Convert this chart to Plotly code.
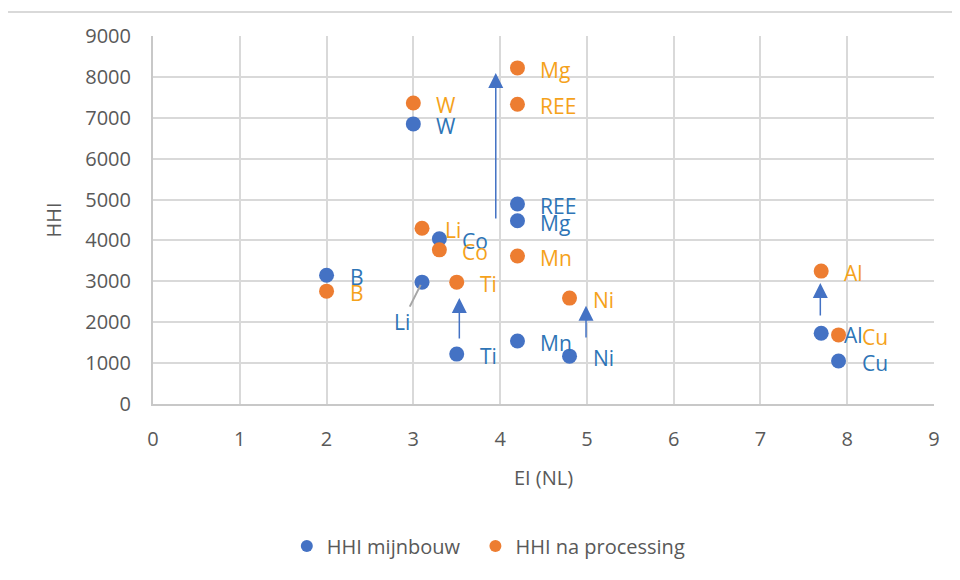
import plotly.graph_objects as go

elements = ["B", "Li", "Co", "W", "Ti", "REE", "Mg", "Mn", "Ni", "Al", "Cu"]
ei_nl = [2.0, 3.1, 3.3, 3.0, 3.5, 4.2, 4.2, 4.2, 4.8, 7.7, 7.9]
hhi_mijnbouw = [3150, 2980, 4040, 6850, 1220, 4890, 4480, 1540, 1170, 1730, 1050]
hhi_processing = [2760, 4300, 3770, 7360, 2980, 7330, 8220, 3620, 2590, 3250, 1690]

# arrows: x, tail y, head y
arrow_x = [3.95, 3.53, 4.99, 7.69]
arrow_from = [4500, 1565, 1590, 2130]
arrow_to = [8095, 2590, 2400, 2960]

BLUE = "#4472C4"
ORANGE = "#ED7D31"
BLUE_TXT = "#2E75B6"
ORANGE_TXT = "#F5A21B"
GRAY_TXT = "#595959"
FONT = "Open Sans"

fig = go.Figure()
fig.add_trace(go.Scatter(x=ei_nl, y=hhi_mijnbouw, mode="markers", name="HHI mijnbouw\u00a0\u00a0",
                         marker=dict(color=BLUE, size=15)))
fig.add_trace(go.Scatter(x=ei_nl, y=hhi_processing, mode="markers", name="HHI na processing",
                         marker=dict(color=ORANGE, size=15)))

# point labels
for el, x, y in zip(elements, ei_nl, hhi_mijnbouw):
    if el == "Li":
        fig.add_annotation(x=x, y=y, text=el, showarrow=True, arrowhead=0, arrowwidth=2,
                           arrowcolor="#A6A6A6", ax=-20, ay=40, standoff=3,
                           font=dict(family=FONT, size=21, color=BLUE_TXT))
    else:
        fig.add_annotation(x=x, y=y, text=el, showarrow=False, xanchor="left",
                           xshift=21, yshift=-2,
                           font=dict(family=FONT, size=21, color=BLUE_TXT))
for el, x, y in zip(elements, ei_nl, hhi_processing):
    fig.add_annotation(x=x, y=y, text=el, showarrow=False, xanchor="left",
                       xshift=21, yshift=-2,
                       font=dict(family=FONT, size=21, color=ORANGE_TXT))

# arrows
for x, y0, y1 in zip(arrow_x, arrow_from, arrow_to):
    fig.add_annotation(x=x, y=y1, ax=x, ay=y0, axref="x", ayref="y", xref="x", yref="y",
                       text="", showarrow=True, arrowhead=2, arrowsize=2, arrowwidth=1.5,
                       arrowcolor=BLUE)

# chart border (top and left); plot area spans 145..926 x 28..396 in figure px
fig.add_shape(type="line", xref="paper", yref="paper", x0=-0.1882, x1=1.05, y0=1.0652, y1=1.0652,
              line=dict(color="#D9D9D9", width=2))
fig.add_shape(type="line", xref="paper", yref="paper", x0=-0.1882, x1=-0.1882, y0=1.0652, y1=-0.55,
              line=dict(color="#D9D9D9", width=2))

fig.update_layout(
    width=960, height=580,
    margin=dict(l=145, r=34, t=28, b=184),
    paper_bgcolor="white", plot_bgcolor="white",
    font=dict(family=FONT, size=20, color=GRAY_TXT),
    showlegend=True,
    legend=dict(orientation="h", x=0.43, xanchor="center", y=-0.386, yanchor="middle",
                font=dict(family=FONT, size=20, color=GRAY_TXT), itemsizing="constant"),
    xaxis=dict(range=[0, 9], dtick=1, showgrid=True, gridcolor="#D9D9D9", gridwidth=2,
               zeroline=False, showline=True, linecolor="#C8C8C8", linewidth=2,
               ticks="", ticklabelstandoff=16,
               title=dict(text="EI (NL)", standoff=20, font=dict(size=20, color=GRAY_TXT)),
               tickfont=dict(size=20, color=GRAY_TXT)),
    yaxis=dict(range=[0, 9000], dtick=1000, showgrid=True, gridcolor="#D9D9D9", gridwidth=2,
               zeroline=False, showline=True, linecolor="#C8C8C8", linewidth=2,
               ticks="", ticklabelstandoff=16,
               title=dict(text="HHI", standoff=18, font=dict(size=20, color=GRAY_TXT)),
               tickfont=dict(size=20, color=GRAY_TXT)),
)

fig.write_html("out.html")
